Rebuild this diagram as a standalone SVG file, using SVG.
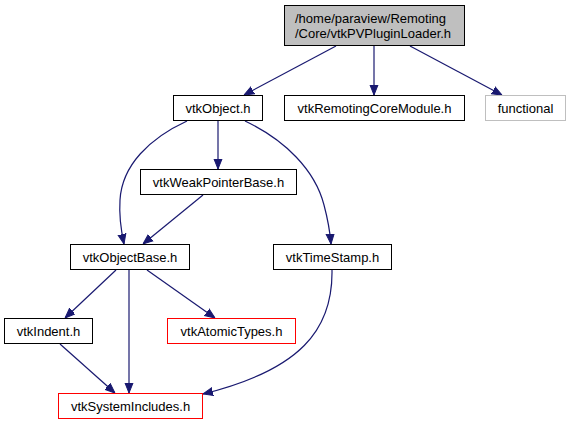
<svg xmlns="http://www.w3.org/2000/svg" width="571" height="425" viewBox="0 0 571 425">
<style>
.n rect{fill:#fff;stroke:#000;stroke-width:1}
.n text{font-family:"Liberation Sans",Arial,sans-serif;font-size:13px;fill:#000;text-anchor:middle}
.e path{fill:none;stroke:#191970;stroke-width:1.2}
.red rect{stroke:#ff0000}
.gray rect{stroke:#bfbfbf}
</style>
<defs>
<marker id="a" viewBox="0 0 10 10" refX="10" refY="5" markerWidth="10" markerHeight="10" markerUnits="userSpaceOnUse" orient="auto">
<path d="M0,1 L10,5 L0,9 Z" fill="#191970" stroke="#191970"/>
</marker>
</defs>
<rect width="571" height="425" fill="#fff"/>
<g id="edges" class="e">
<path d="M336,46 L244,95" marker-end="url(#a)"/>
<path d="M374,46 L374,95" marker-end="url(#a)"/>
<path d="M410,46 L502,95" marker-end="url(#a)"/>
<path d="M218,121 L218,169" marker-end="url(#a)"/>
<path d="M187,121 C150,138 122,165 120,200 C119,215 121,230 124,244" marker-end="url(#a)"/>
<path d="M245,121 C285,140 315,170 324,205 C328,220 330,232 331,244" marker-end="url(#a)"/>
<path d="M203,195 L143,244" marker-end="url(#a)"/>
<path d="M116,270 L65,318" marker-end="url(#a)"/>
<path d="M129,270 L129,393" marker-end="url(#a)"/>
<path d="M147,270 L215,318" marker-end="url(#a)"/>
<path d="M60,344 L115,393" marker-end="url(#a)"/>
<path d="M332,270 C333,330 300,370 203,394" marker-end="url(#a)"/>
</g>
<g id="root" class="n"><rect x="284.5" y="5.5" width="180" height="40" style="fill:#bfbfbf"/><text x="295" y="22.5" style="text-anchor:start">/home/paraview/Remoting</text><text x="295" y="37.5" style="text-anchor:start">/Core/vtkPVPluginLoader.h</text></g>
<g id="vtkObject" class="n"><rect x="173.5" y="95.5" width="89" height="25"/><text x="218" y="112.5">vtkObject.h</text></g>
<g id="vtkRemotingCoreModule" class="n"><rect x="284.5" y="95.5" width="180" height="25"/><text x="374.5" y="112.5">vtkRemotingCoreModule.h</text></g>
<g id="functional" class="n gray"><rect x="485.5" y="95.5" width="80" height="25"/><text x="525.5" y="112.5">functional</text></g>
<g id="vtkWeakPointerBase" class="n"><rect x="140.5" y="169.5" width="156" height="25"/><text x="218.5" y="186.5">vtkWeakPointerBase.h</text></g>
<g id="vtkObjectBase" class="n"><rect x="70.5" y="244.5" width="119" height="25"/><text x="130" y="261.5">vtkObjectBase.h</text></g>
<g id="vtkTimeStamp" class="n"><rect x="273.5" y="244.5" width="118" height="25"/><text x="332.5" y="261.5">vtkTimeStamp.h</text></g>
<g id="vtkIndent" class="n"><rect x="4.5" y="318.5" width="88" height="25"/><text x="48.5" y="335.5">vtkIndent.h</text></g>
<g id="vtkAtomicTypes" class="n red"><rect x="167.5" y="318.5" width="128" height="25"/><text x="231.5" y="335.5">vtkAtomicTypes.h</text></g>
<g id="vtkSystemIncludes" class="n red"><rect x="58.5" y="393.5" width="144" height="25"/><text x="130.5" y="410.5">vtkSystemIncludes.h</text></g>
</svg>
